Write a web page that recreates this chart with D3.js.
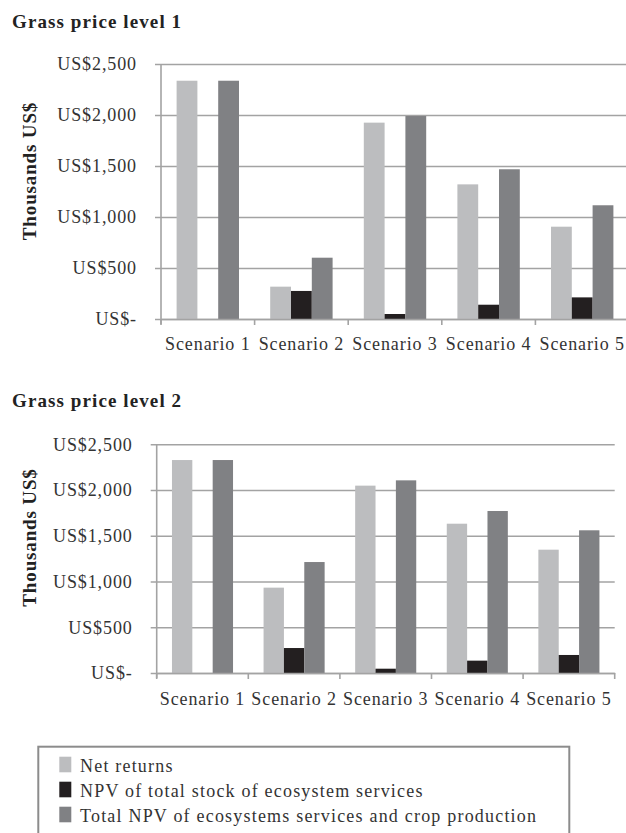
<!DOCTYPE html>
<html>
<head>
<meta charset="utf-8">
<script src="https://cdn.jsdelivr.net/npm/d3@7/dist/d3.min.js"></script>
<style>
  html, body { margin: 0; padding: 0; background: #fff; }
  svg { display: block; }
  text { font-family: "Liberation Serif", "Times New Roman", serif; }
</style>
</head>
<body>
<svg id="chart" width="626" height="833"></svg>
<script>
// Scenario categories and series names
const scenarios = ["Scenario 1", "Scenario 2", "Scenario 3", "Scenario 4", "Scenario 5"];
const seriesNames = [
  "Net returns",
  "NPV of total stock of ecosystem services",
  "Total NPV of ecosystems services and crop production"
];
const seriesColors = ["#bcbdbf", "#231f20", "#808184"];

// Grass price level 1 (thousands US$)
const level1NetReturns = [2336, 317, 1925, 1320, 905];
const level1EcoStock   = [0, 275, 49, 140, 212];
const level1TotalNPV   = [2336, 601, 1990, 1468, 1115];

// Grass price level 2 (thousands US$)
const level2NetReturns = [2328, 933, 2048, 1632, 1348];
const level2EcoStock   = [0, 273, 47, 135, 197];
const level2TotalNPV   = [2328, 1213, 2106, 1771, 1560];

// Value axis ticks
const yTicks = [0, 500, 1000, 1500, 2000, 2500];
const yTickLabels = ["US$-", "US$500", "US$1,000", "US$1,500", "US$2,000", "US$2,500"];

const panels = [
  { title: "Grass price level 1", titleY: 27.5, left: 161, step: 93.6, top: 64, bottom: 319,
    axisTitleY: 171, series: [level1NetReturns, level1EcoStock, level1TotalNPV] },
  { title: "Grass price level 2", titleY: 407, left: 156.7, step: 91.6, top: 444.3, bottom: 673,
    axisTitleY: 537.5, series: [level2NetReturns, level2EcoStock, level2TotalNPV] }
];

const svg = d3.select("#chart");
const gridColor = "#a3a3a3";
const textColor = "#333";

panels.forEach(p => {
  const g = svg.append("g");
  const right = p.left + p.step * scenarios.length;

  const x0 = d3.scaleBand().domain(scenarios).range([p.left, right]).padding(0);
  const x1 = d3.scaleBand().domain(d3.range(seriesNames.length))
    .range([0, x0.bandwidth()]).paddingInner(0).paddingOuter(0.75);
  const y = d3.scaleLinear().domain([0, 2500]).range([p.bottom, p.top]);

  // Title
  g.append("text")
    .attr("x", 12).attr("y", p.titleY)
    .attr("font-size", 19).attr("font-weight", "bold")
    .attr("letter-spacing", 1.1)
    .attr("fill", "#222")
    .text(p.title);

  // Horizontal gridlines with tick labels
  const yAxis = d3.axisLeft(y)
    .tickValues(yTicks)
    .tickSize(-(right - p.left))
    .tickSizeOuter(0)
    .tickPadding(24)
    .tickFormat((d, i) => yTickLabels[i]);
  const ya = g.append("g").attr("transform", `translate(${p.left},0)`).call(yAxis);
  ya.select(".domain").remove();
  ya.selectAll(".tick line").attr("stroke", gridColor).attr("stroke-width", 1.6)
    .attr("x1", -6);
  ya.selectAll(".tick text")
    .attr("font-size", 18).attr("letter-spacing", 0.9)
    .attr("fill", textColor)
    .attr("font-family", "Liberation Serif, serif");

  // Vertical axis line
  g.append("line")
    .attr("x1", p.left).attr("x2", p.left)
    .attr("y1", p.top).attr("y2", p.bottom + 5)
    .attr("stroke", gridColor).attr("stroke-width", 1.6);

  // Axis title
  g.append("text")
    .attr("transform", `translate(35.5,${p.axisTitleY}) rotate(-90)`)
    .attr("text-anchor", "middle")
    .attr("font-size", 19).attr("font-weight", "bold")
    .attr("letter-spacing", 0.85)
    .attr("fill", "#222")
    .text("Thousands US$");

  // Bars
  scenarios.forEach((s, ci) => {
    p.series.forEach((vals, si) => {
      const v = vals[ci];
      if (v <= 0) return;
      g.append("rect")
        .attr("x", x0(s) + x1(si))
        .attr("y", y(v))
        .attr("width", x1.bandwidth())
        .attr("height", y(0) - y(v))
        .attr("fill", seriesColors[si]);
    });
  });

  // Category axis
  const xAxis = d3.axisBottom(x0).tickSize(0).tickPadding(0);
  const xa = g.append("g").attr("transform", `translate(0,${p.bottom})`).call(xAxis);
  xa.select(".domain").attr("stroke", gridColor).attr("stroke-width", 1.6);
  xa.selectAll(".tick text")
    .attr("y", p === panels[0] ? 30.5 : 32)
    .attr("dy", 0)
    .attr("font-size", 18).attr("letter-spacing", 0.9)
    .attr("fill", textColor)
    .attr("font-family", "Liberation Serif, serif");

  // Tick marks between categories
  const boundaries = d3.range(scenarios.length + 1).map(i => p.left + i * x0.step());
  g.selectAll(null).data(boundaries).enter().append("line")
    .attr("x1", d => d).attr("x2", d => d)
    .attr("y1", p.bottom).attr("y2", p.bottom + 6)
    .attr("stroke", gridColor).attr("stroke-width", 1.6);
});

// Legend
const legend = svg.append("g");
legend.append("rect")
  .attr("x", 38.3).attr("y", 746.7)
  .attr("width", 531).attr("height", 120)
  .attr("fill", "none").attr("stroke", "#8c8c8c").attr("stroke-width", 2);

seriesNames.forEach((name, i) => {
  const baseY = 772.3 + i * 25;
  legend.append("rect")
    .attr("x", 59.3).attr("y", baseY - 15.6)
    .attr("width", 12).attr("height", 15.6)
    .attr("fill", seriesColors[i]);
  legend.append("text")
    .attr("x", 80).attr("y", baseY)
    .attr("font-size", 18).attr("letter-spacing", 1.2)
    .attr("fill", textColor)
    .text(name);
});
</script>
</body>
</html>
